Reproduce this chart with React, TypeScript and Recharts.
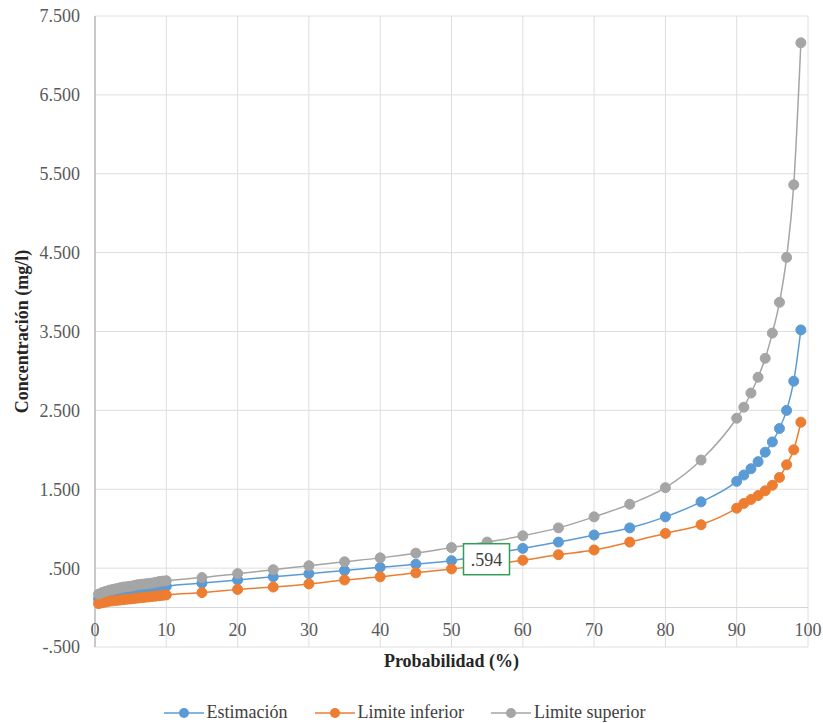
import React from 'react';
import { LineChart, Line, XAxis, YAxis, CartesianGrid, ReferenceLine, LabelList } from 'recharts';

// probabilidad (%) en el eje x
const prob = [0.5, 1, 1.5, 2, 2.5, 3, 3.5, 4, 4.5, 5, 5.5, 6, 6.5, 7, 7.5, 8, 8.5, 9, 9.5, 10, 15, 20, 25, 30, 35, 40, 45, 50, 55, 60, 65, 70, 75, 80, 85, 90, 91, 92, 93, 94, 95, 96, 97, 98, 99];

const estimacion = [0.11, 0.13, 0.14, 0.15, 0.16, 0.17, 0.18, 0.19, 0.195, 0.2, 0.21, 0.22, 0.225, 0.23, 0.235, 0.24, 0.245, 0.25, 0.26, 0.27, 0.31, 0.35, 0.39, 0.43, 0.47, 0.51, 0.55, 0.594, 0.67, 0.75, 0.83, 0.92, 1.01, 1.15, 1.34, 1.6, 1.68, 1.76, 1.85, 1.97, 2.1, 2.27, 2.5, 2.87, 3.52];
const limiteInferior = [0.05, 0.06, 0.07, 0.08, 0.085, 0.09, 0.095, 0.1, 0.105, 0.11, 0.115, 0.12, 0.125, 0.13, 0.135, 0.14, 0.145, 0.15, 0.155, 0.16, 0.19, 0.23, 0.26, 0.3, 0.35, 0.39, 0.44, 0.49, 0.54, 0.6, 0.67, 0.73, 0.83, 0.94, 1.05, 1.26, 1.32, 1.37, 1.42, 1.48, 1.55, 1.65, 1.81, 2.0, 2.35];
const limiteSuperior = [0.17, 0.19, 0.205, 0.22, 0.23, 0.24, 0.25, 0.26, 0.265, 0.27, 0.28, 0.29, 0.295, 0.3, 0.305, 0.31, 0.32, 0.33, 0.335, 0.34, 0.38, 0.43, 0.48, 0.53, 0.58, 0.63, 0.69, 0.76, 0.83, 0.91, 1.01, 1.15, 1.31, 1.52, 1.87, 2.4, 2.54, 2.72, 2.92, 3.16, 3.48, 3.87, 4.44, 5.36, 7.16];

const xTicks = [0, 10, 20, 30, 40, 50, 60, 70, 80, 90, 100];
const yTicks = [-0.5, 0.5, 1.5, 2.5, 3.5, 4.5, 5.5, 6.5, 7.5];

// punto con etiqueta de datos
const labelledProb = 50;

const series = [
  { key: 'est', name: 'Estimación', color: '#5b9bd5' },
  { key: 'inf', name: 'Limite inferior', color: '#ed7d31' },
  { key: 'sup', name: 'Limite superior', color: '#a5a5a5' },
];

const data = prob.map((p, i) => ({
  prob: p,
  est: estimacion[i],
  inf: limiteInferior[i],
  sup: limiteSuperior[i],
}));

const FONT = '"Times New Roman", "Liberation Serif", serif';

// 0.5 -> ".500", 7.5 -> "7.500"
const fmt = (v: number) => {
  const s = v.toFixed(3);
  return s.replace(/^(-?)0\./, '$1.');
};

const XTick = (props: any) => {
  const { x, y, payload } = props;
  return (
    <text x={x} y={y - 13} textAnchor="middle" fill="#595959" fontSize={18} style={{ fontFamily: FONT }}>
      {payload.value}
    </text>
  );
};

const PointLabel = (props: any) => {
  const { x, y, value, index } = props;
  if (prob[index] !== labelledProb) return null;
  const bx = x + 12;
  return (
    <g>
      <rect x={bx} y={y - 17} width={46} height={31} fill="#ffffff" stroke="#2f9e58" strokeWidth={1.5} />
      <text x={bx + 23} y={y + 5} textAnchor="middle" fill="#404040" fontSize={18} style={{ fontFamily: FONT }}>
        {fmt(value)}
      </text>
    </g>
  );
};

const App: React.FC = () => {
  return (
    <div style={{ position: 'absolute', left: 0, top: 0, width: 823, height: 723, background: '#fff', fontFamily: FONT }}>
      <LineChart width={823} height={723} data={data} margin={{ top: 16, right: 15, left: 0, bottom: 46 }} style={{ fontFamily: FONT }}>
        <CartesianGrid stroke="#dedede" strokeWidth={1} />
        <XAxis
          dataKey="prob"
          type="number"
          domain={[0, 100]}
          ticks={xTicks}
          axisLine={false}
          tickLine={false}
          tickSize={0}
          tick={<XTick />}
          height={30}
          label={(p: any) => {
            const vb = p.viewBox;
            return (
              <text x={vb.x + vb.width / 2} y={vb.y + 20} textAnchor="middle" fill="#262626" fontSize={18} fontWeight="bold" style={{ fontFamily: FONT }}>
                Probabilidad (%)
              </text>
            );
          }}
        />
        <YAxis
          type="number"
          domain={[-0.5, 7.5]}
          ticks={yTicks}
          width={95}
          tickFormatter={fmt}
          tickLine={false}
          tickSize={0}
          tickMargin={15}
          axisLine={{ stroke: '#a0a0aa' }}
          tick={{ fill: '#595959', fontSize: 18, style: { fontFamily: FONT } }}
          label={(p: any) => {
            const vb = p.viewBox;
            const cx = 22;
            const cy = vb.y + vb.height / 2;
            return (
              <text x={cx} y={cy} transform={`rotate(-90, ${cx}, ${cy})`} textAnchor="middle" dominantBaseline="central" fill="#262626" fontSize={18} fontWeight="bold" style={{ fontFamily: FONT }}>
                Concentración (mg/l)
              </text>
            );
          }}
        />
        <ReferenceLine y={0} stroke="#d0d4dc" strokeWidth={1} />
        {series.map((s) => (
          <Line
            key={s.key}
            type="monotone"
            dataKey={s.key}
            name={s.name}
            stroke={s.color}
            strokeWidth={1.5}
            dot={{ r: 5, fill: s.color, stroke: s.color, strokeWidth: 1 }}
            activeDot={false}
            isAnimationActive={false}
          >
            {s.key === 'est' && <LabelList dataKey="est" content={<PointLabel />} />}
          </Line>
        ))}
      </LineChart>
      <div
        style={{
          position: 'absolute',
          left: 0,
          top: 702,
          width: 823,
          paddingRight: 14,
          boxSizing: 'border-box',
          display: 'flex',
          justifyContent: 'center',
          gap: 27,
          fontSize: 18,
          color: '#404040',
        }}
      >
        {series.map((s) => (
          <div key={s.key} style={{ display: 'flex', alignItems: 'center' }}>
            <svg width={40} height={12} style={{ marginRight: 3 }}>
              <line x1={0} y1={6} x2={40} y2={6} stroke={s.color} strokeWidth={1.5} />
              <circle cx={20} cy={6} r={5} fill={s.color} />
            </svg>
            <span>{s.name}</span>
          </div>
        ))}
      </div>
    </div>
  );
};

export default App;
